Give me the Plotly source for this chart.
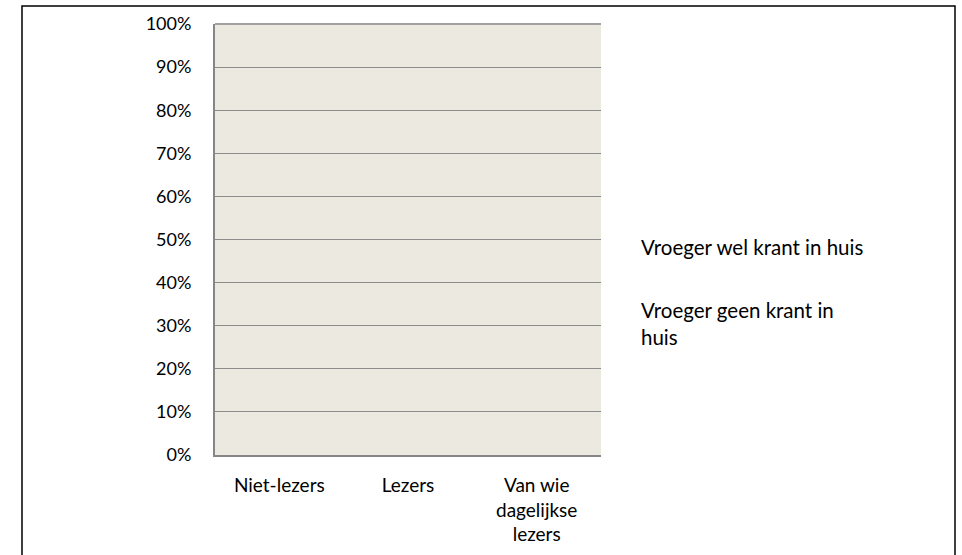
import plotly.graph_objects as go

categories = ["Niet-lezers", "Lezers", "Van wie<br>dagelijkse<br>lezers"]
series_names = ["Vroeger wel krant in huis", "Vroeger geen krant in<br>huis"]
wel_values = [None, None, None]
geen_values = [None, None, None]
y_ticks = [0, 0.1, 0.2, 0.3, 0.4, 0.5, 0.6, 0.7, 0.8, 0.9, 1.0]

FONT = "Lato"
W, H = 962, 555
L, R, T, B = 215, 601, 24, 455
pw, ph = R - L, B - T

def px(x):
    return (x - L) / pw

def py(y):
    return (B - y) / ph

fig = go.Figure()
for i, (name, vals) in enumerate(zip(series_names, [wel_values, geen_values])):
    fig.add_trace(go.Bar(
        x=categories, y=vals, name=name, legendgroup=f"g{i}",
        marker=dict(color="rgba(0,0,0,0)", line=dict(width=0)),
    ))

fig.update_layout(
    width=W, height=H,
    margin=dict(l=L, r=W - R, t=T, b=H - B, pad=0, autoexpand=False),
    paper_bgcolor="white", plot_bgcolor="#ECE9E0",
    barmode="stack",
    font=dict(family=FONT, size=19, color="black"),
    legend=dict(
        x=px(601), y=py(227), xanchor="left", yanchor="top",
        traceorder="grouped", tracegroupgap=34, itemwidth=30,
        font=dict(family=FONT, size=20.5, color="black"),
        bgcolor="rgba(0,0,0,0)",
    ),
    xaxis=dict(
        showgrid=False, showline=True, linecolor="#868686", linewidth=2,
        ticks="", ticklabelstandoff=12, mirror=False, automargin=False,
        tickfont=dict(family=FONT, size=19),
    ),
    yaxis=dict(
        range=[0, 1], tickvals=y_ticks, tickformat=".0%",
        showgrid=True, gridcolor="#8C8C8C", gridwidth=1,
        showline=True, linecolor="#868686", linewidth=2,
        ticks="", ticklabelstandoff=18, zeroline=False, automargin=False,
        tickfont=dict(family=FONT, size=18),
    ),
    showlegend=True,
)

# top edge of the plot area
fig.add_shape(type="line", xref="paper", yref="paper",
              x0=0, x1=1, y0=1, y1=1,
              line=dict(color="#A0A0A0", width=2), layer="above")

# outer chart frame
fig.add_shape(type="rect", xref="paper", yref="paper",
              x0=px(22), x1=px(955), y0=py(600), y1=py(6),
              line=dict(color="black", width=1.5), fillcolor="rgba(0,0,0,0)",
              layer="above")

fig.write_html("out.html", config={"displayModeBar": False},
               post_script="document.body.style.margin='0';")
